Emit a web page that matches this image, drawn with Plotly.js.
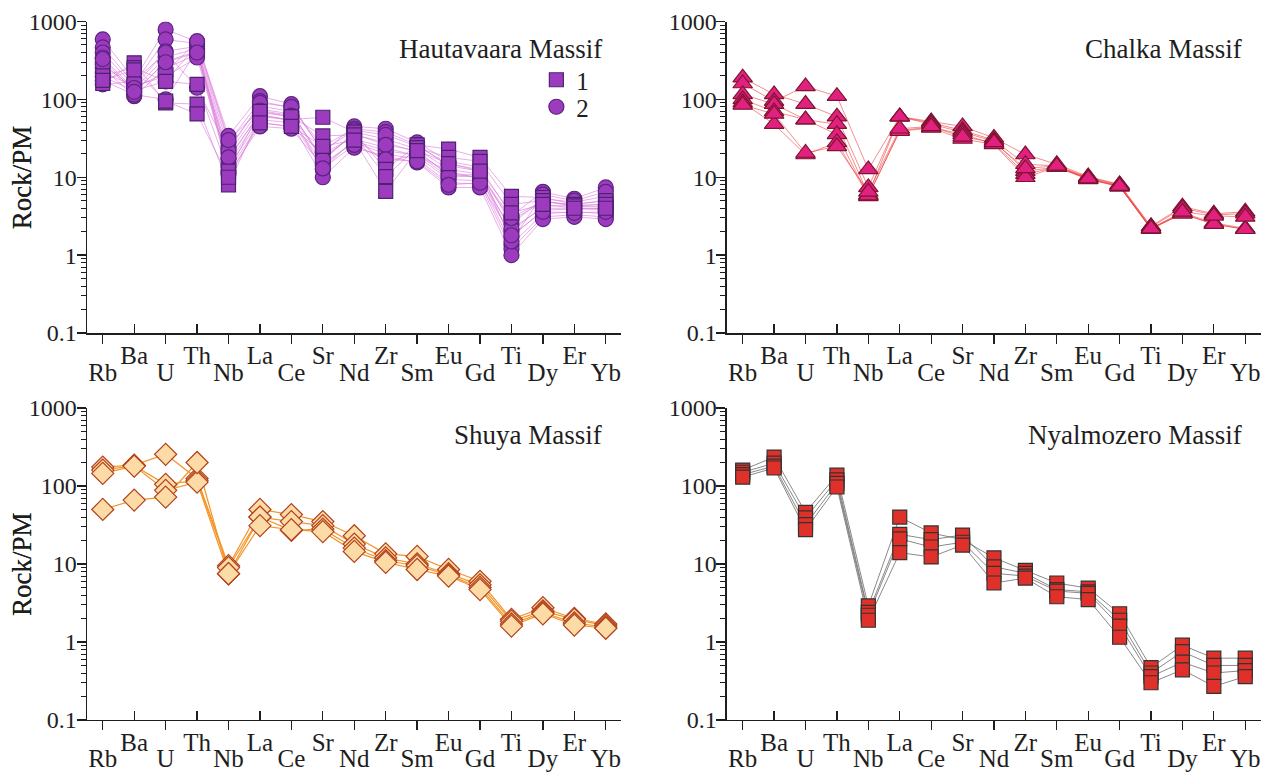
<!DOCTYPE html>
<html>
<head>
<meta charset="utf-8">
<script src="https://cdn.plot.ly/plotly-3.0.1.min.js"></script>
<style>html,body{margin:0;padding:0;background:#fff}#chart{width:1265px;height:777px}</style>
</head>
<body>
<div id="chart"></div>
<script>
// ---------- data ----------
const elements = ['Rb','Ba','U','Th','Nb','La','Ce','Sr','Nd','Zr','Sm','Eu','Gd','Ti','Dy','Er','Yb'];
const lowLabels  = ['Rb','U','Nb','Ce','Nd','Sm','Gd','Dy','Yb'];
const highLabels = ['Ba','Th','La','Sr','Zr','Eu','Ti','Er'];
const yTickValues = [0.1, 1, 10, 100, 1000];
const yTickLabels = ['0.1', '1', '10', '100', '1000'];
const yTitle = 'Rock/PM';
const panelTitles = ['Hautavaara Massif', 'Chalka Massif', 'Shuya Massif', 'Nyalmozero Massif'];
const legendLabels = ['1', '2'];

// Hautavaara Massif, group 1 (squares)
const hautavaaraGroup1 = [
  [160, 295, 90, 87, 8, 60, 55, 59, 38, 12.6, 26, 23, 18, 5.7, 5.5, 4.5, 5.0],
  [200, 256, 170, 156, 12, 70, 60, 34, 35, 10.2, 24, 18, 16, 4.5, 5.0, 4.3, 4.5],
  [175, 240, 95, 65, 10, 50, 45, 25, 30, 6.6, 22, 15, 12, 3.5, 4.5, 4.0, 4.0]
];
// Hautavaara Massif, group 2 (circles)
const hautavaaraGroup2 = [
  [590, 180, 790, 550, 34, 110, 87, 21, 45, 42, 28, 16, 13.5, 3.2, 6.5, 5.3, 7.4],
  [465, 160, 590, 520, 28, 95, 78, 25, 42, 38, 26, 14, 12, 2.5, 5.3, 4.8, 5.7],
  [400, 147, 415, 480, 24, 82, 70, 16, 38, 31, 23, 12.6, 11, 2.0, 4.3, 4.3, 4.5],
  [345, 135, 350, 450, 20, 75, 65, 18, 35, 28, 21, 11, 10, 1.7, 3.8, 3.9, 4.0],
  [300, 123, 307, 415, 17, 68, 60, 12.6, 31, 24, 18.6, 9.4, 9, 1.37, 3.4, 3.6, 3.4],
  [254, 110, 250, 380, 15, 62, 55, 15, 28, 20, 17, 8.5, 8.2, 1.2, 3.1, 3.3, 3.1],
  [220, 150, 196, 345, 13.5, 55, 50, 10, 24, 18.6, 15.5, 7.4, 7.4, 1.0, 2.9, 3.1, 2.9],
  [196, 130, 170, 500, 12, 50, 45, 20, 33, 15.5, 20, 10, 10.5, 2.8, 4.8, 4.5, 5.0],
  [175, 115, 100, 430, 11, 45, 42, 14, 29, 22, 19, 12, 9.5, 2.2, 4.0, 4.0, 3.8],
  [156, 170, 400, 141, 22, 90, 80, 22, 40, 35, 25, 15, 12.5, 1.5, 6.0, 5.0, 6.5],
  [280, 140, 220, 560, 30, 72, 62, 17, 36, 26, 22, 10.5, 11, 3.0, 5.0, 4.2, 4.2],
  [330, 125, 300, 400, 18, 65, 52, 13, 26, 17, 16, 8, 8.5, 1.8, 3.6, 3.5, 3.6]
];
// Chalka Massif (triangles)
const chalka = [
  [190, 116, 87, 60, 7.4, 60, 52, 45, 32, 19.6, 14.7, 10.2, 8.1, 2.35, 4.2, 3.4, 3.6],
  [160, 95, 147, 110, 12.6, 60, 50, 40, 30, 14.7, 14, 10, 8, 2.3, 4.0, 3.3, 3.4],
  [116, 87, 55, 48, 6, 60, 48, 38, 29, 12, 13.5, 9.8, 7.8, 2.2, 3.5, 2.6, 2.2],
  [100, 70, 55, 35.5, 5.7, 40, 44, 35.5, 27, 11, 13.5, 9.5, 7.6, 2.2, 3.4, 2.5, 2.15],
  [91, 48, 19.6, 28, 5.8, 39, 43, 31, 26.5, 10, 13.5, 9.4, 7.6, 2.15, 3.4, 2.5, 2.15],
  [85, 65, 20.5, 25, 6.5, 42, 45, 33, 28, 13, 14, 9.6, 7.7, 2.2, 3.6, 3.2, 3.1]
];
// Shuya Massif (diamonds)
const shuya = [
  [175, 185, 255, 125, 9.5, 50, 43, 35, 23, 13.5, 12.5, 8.5, 6, 1.95, 2.75, 2.0, 1.7],
  [160, 182, 105, 118, 9, 40, 35, 31, 18, 12, 10, 7.5, 5.4, 1.85, 2.5, 1.95, 1.62],
  [145, 180, 88, 112, 7.5, 40, 27, 28, 16, 11, 9.5, 7.2, 5, 1.7, 2.4, 1.75, 1.55],
  [50, 66, 72, 200, 7.5, 31, 27.5, 26, 14.5, 10.5, 8.5, 7, 4.7, 1.6, 2.3, 1.65, 1.5]
];
// Nyalmozero Massif (squares)
const nyalmozero = [
  [160, 235, 46, 138, 2.9, 40, 25, 20.5, 12, 8.3, 5.7, 4.9, 2.3, 0.47, 0.91, 0.62, 0.62],
  [150, 196, 39, 120, 2.4, 24, 20.5, 23.5, 9.2, 7.6, 4.7, 4.4, 1.9, 0.40, 0.75, 0.5, 0.5],
  [140, 180, 32, 108, 2.2, 21, 16.5, 19, 7.6, 7.0, 4.5, 4.2, 1.6, 0.36, 0.55, 0.40, 0.43],
  [130, 170, 27.5, 97, 1.9, 14, 12.3, 17.5, 5.7, 6.6, 3.8, 3.5, 1.15, 0.30, 0.44, 0.27, 0.36]
];

// ---------- styles ----------
const font = '"Liberation Serif", "DejaVu Serif", serif';
const ink = '#1e1e1e';
const styles = {
  haut1: {symbol:'square', size:14, fill:'#9d3bbf', edge:'#4d2370', line:'rgba(218,120,218,0.6)', lw:1},
  haut2: {symbol:'circle', size:15, fill:'#9d3bbf', edge:'#5a2380', line:'rgba(218,120,218,0.6)', lw:1},
  chalka: {symbol:'triangle-up', size:17, fill:'#e2207f', edge:'#7d1530', line:'rgba(238,45,45,0.55)', lw:1},
  shuya: {symbol:'diamond', size:17, fill:'#fddba6', edge:'#b3421a', line:'#f3952a', lw:1.2},
  nyal: {symbol:'square', size:14, fill:'#e0302a', edge:'#333333', line:'rgba(70,70,70,0.8)', lw:0.8}
};

const xDom = [[0.0688, 0.4913], [0.5747, 0.9968]];
const yDom = [[0.5714, 0.9723], [0.0734, 0.4749]];

const traces = [];
function axisNames(i){ return {xa: i===1?'x':'x'+i, ya: i===1?'y':'y'+i}; }
function addLines(rows, i, st){
  const {xa, ya} = axisNames(i);
  rows.forEach(r => traces.push({type:'scatter', mode:'lines', x:elements, y:r, xaxis:xa, yaxis:ya,
    line:{color:st.line, width:st.lw}, showlegend:false, hoverinfo:'skip'}));
}
function addMarkers(rows, i, st, legendName, legendId){
  const {xa, ya} = axisNames(i);
  rows.forEach((r, k) => traces.push({type:'scatter', mode:'markers', x:elements, y:r, xaxis:xa, yaxis:ya,
    name: legendName || '', legend: legendId || 'legend',
    showlegend: !!legendName && k===0,
    marker:{symbol:st.symbol, size:st.size, color:st.fill, line:{color:st.edge, width:1.2}},
    hoverinfo:'skip'}));
}
addLines(hautavaaraGroup1, 1, styles.haut1);
addLines(hautavaaraGroup2, 1, styles.haut2);
addMarkers(hautavaaraGroup2, 1, styles.haut2, legendLabels[1], 'legend2');
addMarkers(hautavaaraGroup1, 1, styles.haut1, legendLabels[0], 'legend');
addLines(chalka, 2, styles.chalka);  addMarkers(chalka, 2, styles.chalka);
addLines(shuya, 3, styles.shuya);    addMarkers(shuya, 3, styles.shuya);
addLines(nyalmozero, 4, styles.nyal); addMarkers(nyalmozero, 4, styles.nyal);

// empty carrier traces so the overlaid (staggered-label) axes are drawn
[1,2,3,4].forEach(i => {
  traces.push({type:'scatter', mode:'markers', x:[], y:[], xaxis:'x'+(i+4), yaxis: i===1?'y':'y'+i,
    showlegend:false, hoverinfo:'skip'});
});

const legendBase = {xanchor:'left', yanchor:'middle', bgcolor:'rgba(0,0,0,0)',
  font:{family:font, size:25, color:ink}, itemwidth:30};
const layout = {
  width:1265, height:777, margin:{l:0, r:0, t:0, b:0},
  paper_bgcolor:'#fff', plot_bgcolor:'rgba(0,0,0,0)',
  font:{family:font, color:ink},
  showlegend:true,
  legend: Object.assign({x:0.424, y:1 - 80/777}, legendBase),
  legend2: Object.assign({x:0.424, y:1 - 107/777}, legendBase),
  annotations:[]
};

const highIdx = highLabels.map(e => elements.indexOf(e));
const pos = [[0,0],[1,0],[0,1],[1,1]];
pos.forEach(([c, r], k) => {
  const i = k + 1;
  const sfx = i===1 ? '' : String(i);
  layout['xaxis'+sfx] = {
    domain:xDom[c], anchor:'y'+sfx, type:'category', categoryorder:'array', categoryarray:elements,
    range:[-0.5, 16.5], tickmode:'array', tickvals:lowLabels, ticktext:lowLabels,
    ticks:'outside', ticklen:9, tickwidth:1.3, tickcolor:ink,
    showline:true, linecolor:ink, linewidth:1.5, showgrid:false, zeroline:false,
    tickfont:{family:font, size:25, color:ink}, ticklabelstandoff:7, automargin:false, fixedrange:true
  };
  layout['xaxis'+(i+4)] = {
    overlaying:'x'+sfx, anchor:'y'+sfx, side:'bottom', type:'linear',
    range:[-0.5, 16.5], tickmode:'array', tickvals:highIdx, ticktext:highLabels,
    ticks:'inside', ticklen:9, tickwidth:1.3, tickcolor:ink,
    showline:false, showgrid:false, zeroline:false,
    tickfont:{family:font, size:25, color:ink}, ticklabelstandoff:5, automargin:false, fixedrange:true
  };
  layout['yaxis'+sfx] = {
    domain:yDom[r], anchor:'x'+sfx, type:'log', range:[-1, 3],
    tickmode:'array', tickvals:yTickValues, ticktext:yTickLabels,
    ticks:'outside', ticklen:9, tickwidth:1.3, tickcolor:ink,
    minor:{dtick:'D1', ticks:'outside', ticklen:5, tickwidth:1, tickcolor:ink, showgrid:false},
    showline:true, linecolor:ink, linewidth:1.5, showgrid:false, zeroline:false,
    tickfont:{family:font, size:24, color:ink}, ticklabelstandoff:-5, automargin:false, fixedrange:true
  };
  layout.annotations.push({
    text:panelTitles[k], xref:'x'+sfx+' domain', yref:'y'+sfx+' domain', x:1, y:0.913,
    xanchor:'right', yanchor:'middle', xshift:-17, showarrow:false,
    font:{family:font, size:27, color:ink}
  });
  layout.annotations.push({
    text:yTitle, xref:'paper', yref:'y'+sfx+' domain', x:22/1265, y:0.5,
    xanchor:'center', yanchor:'middle', textangle:-90, showarrow:false,
    font:{family:font, size:27, color:ink}
  });
});

Plotly.newPlot('chart', traces, layout, {displayModeBar:false, staticPlot:true});
</script>
</body>
</html>
